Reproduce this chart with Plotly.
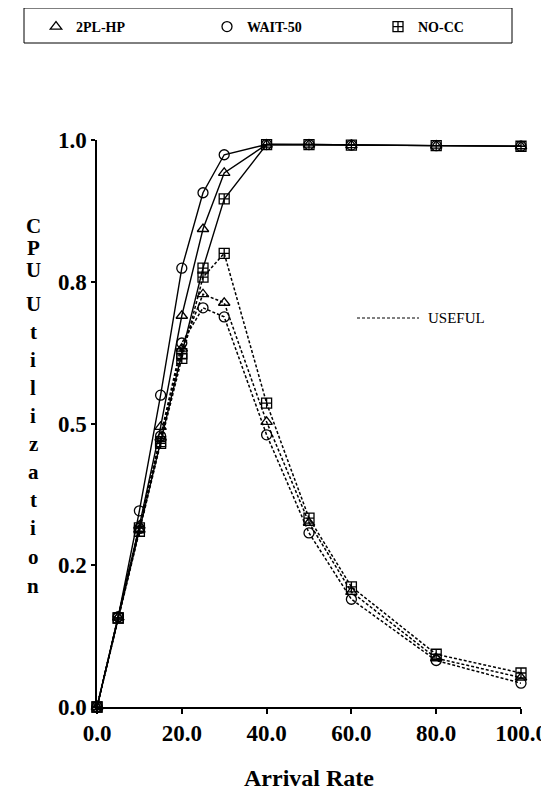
import plotly.graph_objects as go

# ---------------- data ----------------
rates = [0, 5, 10, 15, 20, 25, 30, 40, 50, 60, 80, 100]
series_names = ["2PL-HP", "WAIT-50", "NO-CC"]

total_2plhp = [0, 0.158, 0.320, 0.494, 0.690, 0.843, 0.942, 0.992, 0.992, 0.991, 0.990, 0.989]
total_wait50 = [0, 0.159, 0.346, 0.550, 0.774, 0.907, 0.974, 0.992, 0.992, 0.991, 0.990, 0.989]
total_nocc = [0, 0.157, 0.316, 0.468, 0.623, 0.774, 0.896, 0.992, 0.992, 0.991, 0.990, 0.989]

useful_2plhp = [0, 0.158, 0.313, 0.475, 0.632, 0.728, 0.713, 0.503, 0.325, 0.203, 0.086, 0.052]
useful_wait50 = [0, 0.159, 0.315, 0.478, 0.642, 0.704, 0.688, 0.480, 0.307, 0.190, 0.082, 0.042]
useful_nocc = [0, 0.157, 0.310, 0.465, 0.615, 0.758, 0.800, 0.536, 0.333, 0.212, 0.093, 0.060]

x_tick_vals = [0, 20, 40, 60, 80, 100]
x_tick_text = ["0.0", "20.0", "40.0", "60.0", "80.0", "100.0"]
y_tick_vals = [0, 0.25, 0.5, 0.75, 1.0]
y_tick_text = ["0.0", "0.2", "0.5", "0.8", "1.0"]

x_title = "Arrival Rate"
y_title_letters = ["C", "P", "U", "U", "t", "i", "l", "i", "z", "a", "t", "i", "o", "n"]
useful_label = "USEFUL"

# ---------------- layout helpers ----------------
# The page body has an 8px margin, so the figure is drawn 8px in from the window corner.
OFF = 8
W, H = 549 - OFF, 795 - OFF
PLOT_LEFT, PLOT_RIGHT, PLOT_TOP, PLOT_BOTTOM = 97, 521, 140, 707  # window pixels
L, T = PLOT_LEFT - OFF, PLOT_TOP - OFF
R, B = W - (PLOT_RIGHT - OFF), H - (PLOT_BOTTOM - OFF)
PW, PH = W - L - R, H - T - B


def px_x(p):
    return (p - OFF - L) / PW


def px_y(p):
    return (H - B - (p - OFF)) / PH


SERIF = "Liberation Serif"

symbols = {"2PL-HP": "triangle-up-open", "WAIT-50": "circle-open", "NO-CC": "square-cross-open"}
sizes = {"2PL-HP": 10, "WAIT-50": 10, "NO-CC": 10}
totals = {"2PL-HP": total_2plhp, "WAIT-50": total_wait50, "NO-CC": total_nocc}
usefuls = {"2PL-HP": useful_2plhp, "WAIT-50": useful_wait50, "NO-CC": useful_nocc}

fig = go.Figure()

for name in series_names:
    fig.add_trace(go.Scatter(x=rates, y=totals[name], mode="lines",
                             line=dict(color="black", width=1.4),
                             showlegend=False, hoverinfo="skip", cliponaxis=False))
    fig.add_trace(go.Scatter(x=rates, y=usefuls[name], mode="lines",
                             line=dict(color="black", width=1.5, dash="3px,2px"),
                             showlegend=False, hoverinfo="skip", cliponaxis=False))

for name in series_names:
    fig.add_trace(go.Scatter(x=rates + rates, y=totals[name] + usefuls[name], mode="markers",
                             name=name,
                             marker=dict(symbol=symbols[name], size=sizes[name], color="black",
                                         line=dict(width=1.3, color="black")),
                             cliponaxis=False))

annotations = []
# stacked vertical y title
letter_px = [226, 248, 270, 304, 332, 360, 388, 416, 444, 472, 500, 528, 557, 586]
for ch, py in zip(y_title_letters, letter_px):
    annotations.append(dict(text=ch, x=px_x(33), y=px_y(py), xref="paper", yref="paper",
                            showarrow=False, xanchor="center", yanchor="middle",
                            font=dict(family=SERIF, size=21, color="black", weight="bold")))

annotations.append(dict(text=useful_label, x=px_x(426), y=px_y(318), xref="paper", yref="paper",
                        showarrow=False, xanchor="left", yanchor="middle",
                        font=dict(family=SERIF, size=15, color="black")))

shapes = [
    # legend frame
    dict(type="rect", xref="paper", yref="paper", x0=px_x(24), x1=px_x(512), y0=px_y(43), y1=px_y(8),
         line=dict(color="black", width=1)),
    # USEFUL line sample
    dict(type="line", xref="paper", yref="paper", x0=px_x(357), x1=px_x(419), y0=px_y(318), y1=px_y(318),
         line=dict(color="black", width=1, dash="3px,2px")),
]

fig.update_layout(
    width=W, height=H,
    margin=dict(l=L, r=R, t=T, b=B, autoexpand=False),
    plot_bgcolor="white", paper_bgcolor="white",
    showlegend=True,
    legend=dict(orientation="h", x=px_x(36), y=px_y(27), xanchor="left", yanchor="middle",
                xref="paper", yref="paper",
                entrywidth=126, entrywidthmode="pixels",
                font=dict(family=SERIF, size=14, color="black", weight="bold"),
                bgcolor="rgba(0,0,0,0)", borderwidth=0),
    annotations=annotations,
    shapes=shapes,
    xaxis=dict(range=[0, 100], tickvals=x_tick_vals, ticktext=x_tick_text, automargin=False,
               showline=True, linecolor="black", linewidth=1.5, ticks="outside", ticklen=5,
               tickwidth=1.5, tickcolor="black", showgrid=False, zeroline=False,
               tickfont=dict(family=SERIF, size=23, color="black", weight="bold"),
               title=dict(text=x_title, standoff=24,
                          font=dict(family=SERIF, size=24, color="black", weight="bold"))),
    yaxis=dict(range=[0, 1], tickvals=y_tick_vals, ticktext=y_tick_text, automargin=False,
               showline=True, linecolor="black", linewidth=1.5, ticks="outside", ticklen=4,
               tickwidth=1.5, tickcolor="black", showgrid=False, zeroline=False,
               tickfont=dict(family=SERIF, size=23, color="black", weight="bold")),
)

fig.write_html("out.html")
